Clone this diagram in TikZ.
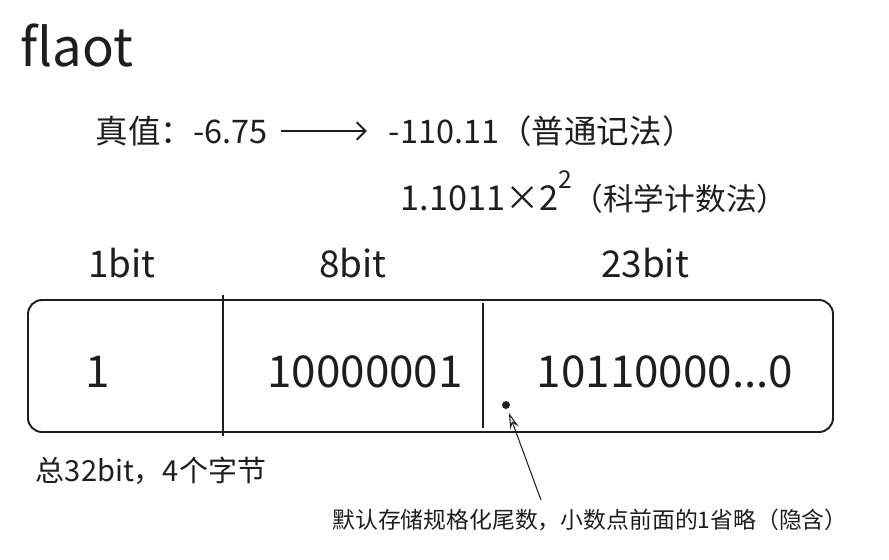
\documentclass[tikz,border=0pt]{standalone}
\usepackage{fontspec}
\setmainfont{Noto Sans CJK SC}
\usetikzlibrary{arrows.meta}
\definecolor{ink}{HTML}{1E1E1E}
\newcommand{\fsz}[1]{\fontsize{#1}{#1}\selectfont}

\begin{document}
\begin{tikzpicture}[x=0.02cm, y=-0.02cm, color=ink, line width=1.1pt,
        every node/.style={inner sep=0pt, text=ink},
        label/.style={font=\fsz{21}},
        bits/.style={font=\fsz{25}}]
        \useasboundingbox (0,0) rectangle (889,559);

        % title and the value
        \node[font=\fsz{30}] (title) at (77,46) {flaot};
        \node[font=\fsz{18.5}, anchor=west] (value) at (95,131) {真值：-6.75};
        \node[font=\fsz{18.5}, anchor=west] (plain) at (388,131) {-110.11（普通记法）};
        \node[anchor=west] (sci) at (400,192) {\fsz{19.5}1.1011×2\raisebox{1.2ex}{\fsz{14}2}\fsz{17.5}（科学计数法）};

        \draw[-{Straight Barb[length=5pt]}, shorten <=7pt, shorten >=12pt] (value) -- (plain);

        % field widths
        \node[label] (sign) at (122,263) {1bit};
        \node[label] (expo) at (353,263) {8bit};
        \node[label] (mant) at (645,263) {23bit};

        % the 32 bits
        \draw[rounded corners=8pt] (28,300) rectangle (833,432);
        \draw (223,295) -- (223,436);
        \draw (483,303) -- (483,428);
        \node[bits] (s) at (98,372) {1};
        \node[bits] (e) at (365,372) {10000001};
        \node[bits] (m) at (665,372) {10110000...0};

        \node[circle, fill=ink, minimum size=4.5pt] (dot) at (506,405) {};

        \node[font=\fsz{16.5}, anchor=west] (total) at (35,471) {总32bit，4个字节};
        \node[font=\fsz{13}] (note) at (590,520) {默认存储规格化尾数，小数点前面的1省略（隐含）};
        \coordinate (tail) at (541,500);

        \draw[line width=0.6pt, -{Stealth[open, length=9pt, width=5pt]}, shorten >=2pt] (tail) -- (dot);

\end{tikzpicture}
\end{document}
